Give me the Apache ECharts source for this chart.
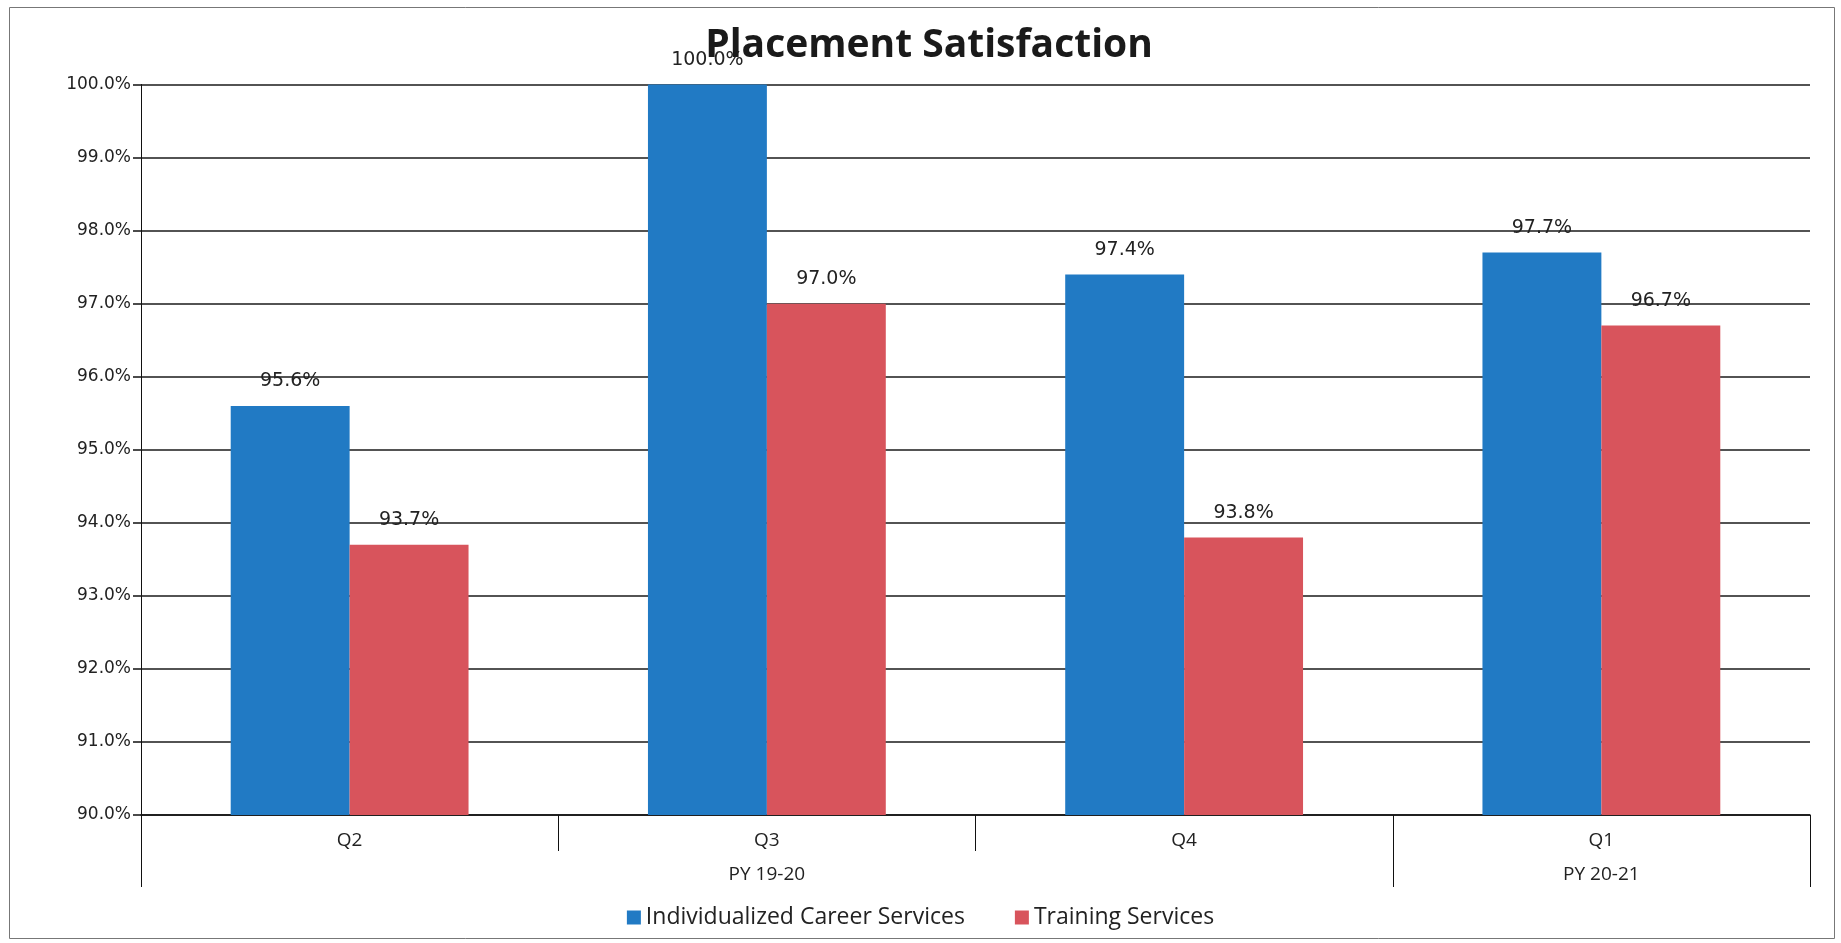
<!DOCTYPE html>
<html>
<head>
<meta charset="utf-8">
<script src="https://cdn.jsdelivr.net/npm/echarts@6/dist/echarts.min.js"></script>
<style>
html,body{margin:0;padding:0;background:#fff;}
#chart{width:1841px;height:943px;}
</style>
</head>
<body>
<div id="chart"></div>
<script>
const categories = ['Q2', 'Q3', 'Q4', 'Q1'];
const groupLabels = ['PY 19-20', 'PY 20-21'];
const groupSpans = [3, 1];
const seriesNames = ['Individualized Career Services', 'Training Services'];
const careerValues = [95.6, 100.0, 97.4, 97.7];
const trainingValues = [93.7, 97.0, 93.8, 96.7];
const yMin = 90, yMax = 100, yStep = 1;

// group boundaries and centers (in category units)
const groupBounds = [0];
groupSpans.forEach(s => groupBounds.push(groupBounds[groupBounds.length - 1] + s));
const groupCenters = groupSpans.map((s, i) => groupBounds[i] + s / 2);

const chart = echarts.init(document.getElementById('chart'));
const txt = '#222';
const pct = v => Number(v).toFixed(1) + '%';

chart.setOption({
  animation: false,
  backgroundColor: '#fff',
  title: {
    text: 'Placement Satisfaction',
    left: 924, top: 21, textAlign: 'center',
    textStyle: { fontFamily: 'Open Sans', fontWeight: 'bold', fontSize: 39, color: '#1a1a1a' }
  },
  graphic: [{
    type: 'rect', shape: { x: 9.5, y: 7.5, width: 1825, height: 931 },
    style: { fill: 'none', stroke: '#777', lineWidth: 1 }, silent: true, z: -1
  }],
  legend: {
    data: seriesNames, bottom: 9, left: 'center', itemGap: 50,
    icon: 'rect', itemWidth: 14, itemHeight: 14,
    textStyle: { fontFamily: 'Open Sans', fontSize: 23, color: txt }
  },
  grid: { left: 141, right: 31, top: 84.5, bottom: 128, containLabel: false },
  xAxis: [{
    type: 'category', data: categories, position: 'bottom',
    axisLine: { show: true, lineStyle: { color: '#111', width: 1.5 } },
    axisTick: { show: true, interval: 0, length: 36, lineStyle: { color: '#111', width: 1 } },
    axisLabel: { margin: 16, fontFamily: 'Open Sans', fontSize: 19, color: txt }
  }, {
    type: 'value', min: 0, max: groupBounds[groupBounds.length - 1], position: 'bottom',
    axisLine: { show: false },
    splitLine: { show: false },
    axisTick: { show: true, customValues: groupBounds, length: 72, lineStyle: { color: '#111', width: 1 } },
    axisLabel: {
      customValues: groupCenters, margin: 50, fontFamily: 'Open Sans', fontSize: 19, color: txt,
      formatter: v => { const i = groupCenters.indexOf(v); return i >= 0 ? groupLabels[i] : ''; }
    }
  }],
  yAxis: {
    type: 'value', min: yMin, max: yMax, interval: yStep,
    axisLine: { show: true, lineStyle: { color: '#111', width: 1 } },
    axisTick: { show: true, length: 8, lineStyle: { color: '#111', width: 1.5 } },
    splitLine: { show: true, lineStyle: { color: '#1a1a1a', width: 1.5 } },
    axisLabel: { margin: 10, fontFamily: 'DejaVu Sans', fontSize: 17, color: txt, formatter: pct }
  },
  series: [{
    name: seriesNames[0], type: 'bar', data: careerValues, xAxisIndex: 0,
    barGap: '0%', barCategoryGap: '43%',
    itemStyle: { color: '#217AC4' },
    label: { show: true, position: 'top', distance: 15, formatter: p => pct(p.value),
      fontFamily: 'DejaVu Sans', fontSize: 19, color: txt }
  }, {
    name: seriesNames[1], type: 'bar', data: trainingValues, xAxisIndex: 0,
    barGap: '0%', barCategoryGap: '43%',
    itemStyle: { color: '#D8545C' },
    label: { show: true, position: 'top', distance: 15, formatter: p => pct(p.value),
      fontFamily: 'DejaVu Sans', fontSize: 19, color: txt }
  }]
});
</script>
</body>
</html>
